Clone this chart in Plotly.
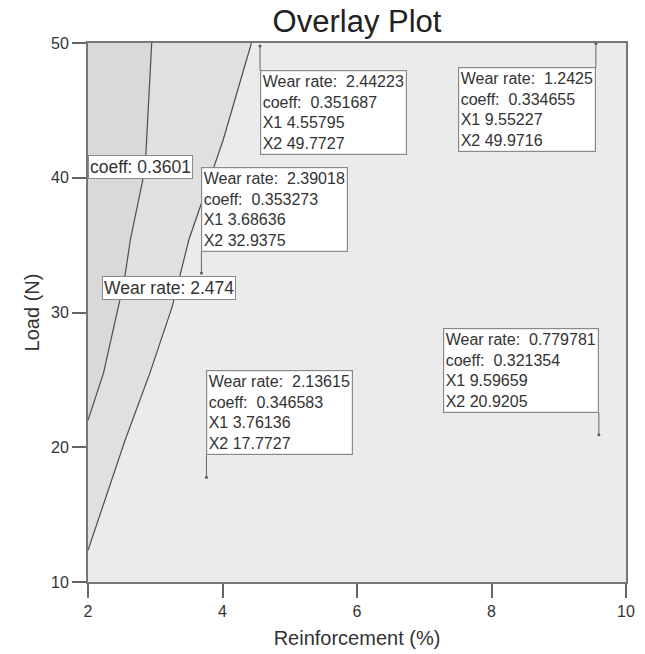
import plotly.graph_objects as go

# ---- data ----
# contour line for coeff = 0.3601 (Reinforcement %, Load N), bottom to top
coeff_line_x = [2.00, 2.23, 2.45, 2.54, 2.63, 2.85, 2.947]
coeff_line_y = [22.0, 25.5, 30.4, 32.4, 35.4, 40.7, 50.0]
# contour line for wear rate = 2.474
wear_line_x = [2.00, 2.55, 2.92, 3.25, 3.50, 4.01, 4.43]
wear_line_y = [12.35, 20.5, 25.5, 30.4, 35.4, 42.8, 50.0]

# contour labels
contour_label_text = ["coeff: 0.3601", "Wear rate: 2.474"]
contour_label_x = [2.787, 3.20]
contour_label_y = [40.8, 31.8]

# flagged points
flag_wear = [2.44223, 2.39018, 1.2425, 2.13615, 0.779781]
flag_coeff = [0.351687, 0.353273, 0.334655, 0.346583, 0.321354]
flag_x1 = [4.55795, 3.68636, 9.55227, 3.76136, 9.59659]
flag_x2 = [49.7727, 32.9375, 49.9716, 17.7727, 20.9205]

x_range = [2, 10]
y_range = [10, 50]
x_ticks = [2, 4, 6, 8, 10]
y_ticks = [10, 20, 30, 40, 50]

# ---- styling ----
FONT = "Liberation Sans, Arial, sans-serif"
TXT = "#333333"
LINE = "#4d4d4d"
BOX = "#8a8a8a"

fig = go.Figure()

# left-most region (left of coeff contour)
left_x = [x_range[0]] + coeff_line_x + [x_range[0]]
left_y = [coeff_line_y[0]] + coeff_line_y + [y_range[1]]
fig.add_trace(go.Scatter(x=left_x, y=left_y, fill="toself", fillcolor="#d9d9d9",
                         line=dict(width=0), mode="lines", hoverinfo="skip", showlegend=False))
# middle region (between the contours)
mid_x = wear_line_x + coeff_line_x[::-1] + [wear_line_x[0]]
mid_y = wear_line_y + coeff_line_y[::-1] + [wear_line_y[0]]
fig.add_trace(go.Scatter(x=mid_x, y=mid_y, fill="toself", fillcolor="#e0e0e0",
                         line=dict(width=0), mode="lines", hoverinfo="skip", showlegend=False))
# contour lines
fig.add_trace(go.Scatter(x=coeff_line_x, y=coeff_line_y, mode="lines",
                         line=dict(color=LINE, width=1.2), showlegend=False))
fig.add_trace(go.Scatter(x=wear_line_x, y=wear_line_y, mode="lines",
                         line=dict(color=LINE, width=1.2), showlegend=False))
# flag points
fig.add_trace(go.Scatter(x=flag_x1, y=flag_x2, mode="markers",
                         marker=dict(color="#555555", size=3), showlegend=False))

# contour labels
for t, x, y in zip(contour_label_text, contour_label_x, contour_label_y):
    fig.add_annotation(x=x, y=y, text=t, showarrow=False, bgcolor="white",
                       bordercolor=BOX, borderwidth=1, borderpad=1,
                       font=dict(family=FONT, size=17.5, color=TXT))

# flag annotations: (xanchor, yanchor, ay)
flag_style = [("left", "top", 24), ("left", "bottom", -21), ("right", "top", 24),
              ("left", "bottom", -22), ("right", "bottom", -22)]
nb = "\u00a0"
for w, c, x1, x2, (xa, ya, ay) in zip(flag_wear, flag_coeff, flag_x1, flag_x2, flag_style):
    txt = (f"Wear rate:{nb}{nb}{w:g}<br>coeff:{nb}{nb}{c:g}<br>"
           f"X1{nb}{x1:g}<br>X2{nb}{x2:g}")
    fig.add_annotation(x=x1, y=x2, text=txt, showarrow=True, arrowhead=0,
                       arrowwidth=1, arrowcolor="#666666", ax=0, ay=ay,
                       xanchor=xa, yanchor=ya, align="left", bgcolor="white",
                       bordercolor=BOX, borderwidth=1.2, borderpad=1.5,
                       font=dict(family=FONT, size=16, color=TXT))

axis_common = dict(showline=True, linecolor="#777777", linewidth=2, mirror=True,
                   ticks="outside", ticklen=14, tickwidth=2, tickcolor="#666666",
                   showgrid=False, zeroline=False, automargin=False,
                   tickfont=dict(family=FONT, size=16, color=TXT))

fig.update_layout(
    width=645, height=654,
    margin=dict(l=88, r=19, t=43, b=72, autoexpand=False),
    paper_bgcolor="white", plot_bgcolor="#ebebeb",
    title=dict(text="Overlay Plot", x=0.5, xref="paper", y=1 - 21 / 654,
               yref="container", xanchor="center", yanchor="middle",
               font=dict(family=FONT, size=31, color="#222222")),
    xaxis=dict(range=x_range, tickvals=x_ticks,
               title=dict(text="Reinforcement (%)", standoff=12,
                          font=dict(family=FONT, size=20, color=TXT)),
               **axis_common),
    yaxis=dict(range=y_range, tickvals=y_ticks,
               title=dict(text="Load (N)", standoff=6,
                          font=dict(family=FONT, size=20, color=TXT)),
               **axis_common),
    showlegend=False,
)

fig.write_html("out.html")
